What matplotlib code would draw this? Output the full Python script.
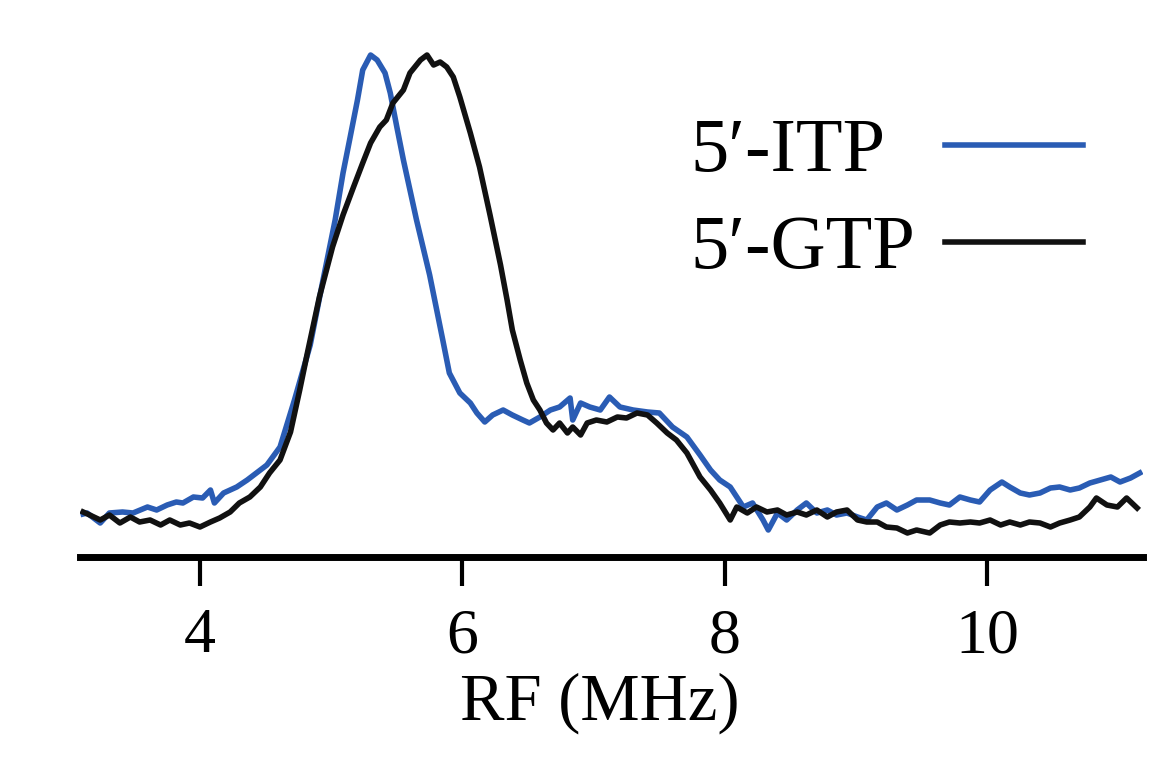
import matplotlib
matplotlib.use("Agg")
import matplotlib.pyplot as plt

# RF (MHz) and intensity (a.u.)
itp_rf = [3.11, 3.14, 3.24, 3.31, 3.41, 3.49, 3.60, 3.67, 3.75, 3.82, 3.87, 3.95, 4.02,
          4.08, 4.11, 4.18, 4.28, 4.36, 4.43, 4.51, 4.61, 4.72, 4.84, 4.93, 5.03, 5.09,
          5.14, 5.20, 5.24, 5.30, 5.35, 5.41, 5.45, 5.50, 5.55, 5.60, 5.65, 5.75, 5.85,
          5.90, 5.98, 6.06, 6.11, 6.17, 6.23, 6.31, 6.38, 6.46, 6.51, 6.59, 6.67, 6.74,
          6.82, 6.84, 6.90, 6.97, 7.05, 7.12, 7.20, 7.30, 7.41, 7.50, 7.60, 7.71, 7.81,
          7.89, 7.96, 8.04, 8.09, 8.14, 8.21, 8.29, 8.33, 8.40, 8.47, 8.55, 8.62, 8.70,
          8.78, 8.85, 8.93, 9.01, 9.08, 9.16, 9.23, 9.31, 9.39, 9.46, 9.56, 9.64, 9.71,
          9.79, 9.87, 9.94, 10.02, 10.11, 10.17, 10.25, 10.32, 10.40, 10.48, 10.55, 10.63,
          10.70, 10.78, 10.86, 10.94, 11.01, 11.09, 11.16]
itp_int = [0.086, 0.088, 0.068, 0.088, 0.090, 0.088, 0.100, 0.094, 0.104, 0.110, 0.108,
           0.120, 0.118, 0.134, 0.108, 0.128, 0.140, 0.154, 0.168, 0.184, 0.220, 0.314,
           0.424, 0.544, 0.674, 0.768, 0.834, 0.914, 0.974, 1.004, 0.994, 0.968, 0.928,
           0.860, 0.794, 0.734, 0.674, 0.564, 0.434, 0.368, 0.328, 0.308, 0.288, 0.270,
           0.284, 0.294, 0.284, 0.274, 0.268, 0.280, 0.294, 0.300, 0.318, 0.274, 0.308,
           0.300, 0.294, 0.320, 0.300, 0.294, 0.290, 0.288, 0.260, 0.240, 0.204, 0.174,
           0.154, 0.140, 0.120, 0.100, 0.108, 0.074, 0.054, 0.088, 0.074, 0.094, 0.108,
           0.088, 0.094, 0.084, 0.088, 0.080, 0.074, 0.100, 0.108, 0.094, 0.104, 0.114,
           0.114, 0.108, 0.104, 0.120, 0.114, 0.110, 0.134, 0.150, 0.140, 0.128, 0.124,
           0.128, 0.138, 0.140, 0.134, 0.138, 0.148, 0.154, 0.160, 0.150, 0.158, 0.168]

gtp_rf = [3.11, 3.16, 3.24, 3.31, 3.39, 3.47, 3.54, 3.62, 3.70, 3.77, 3.85, 3.92, 4.00,
          4.08, 4.15, 4.23, 4.30, 4.38, 4.46, 4.53, 4.61, 4.69, 4.76, 4.82, 4.91, 5.01,
          5.09, 5.17, 5.24, 5.30, 5.37, 5.42, 5.47, 5.55, 5.60, 5.68, 5.73, 5.78, 5.83,
          5.88, 5.93, 5.98, 6.06, 6.13, 6.21, 6.29, 6.34, 6.38, 6.44, 6.49, 6.54, 6.59,
          6.64, 6.69, 6.74, 6.80, 6.84, 6.90, 6.95, 7.02, 7.10, 7.18, 7.25, 7.33, 7.41,
          7.48, 7.56, 7.63, 7.71, 7.81, 7.89, 7.96, 8.04, 8.09, 8.17, 8.24, 8.32, 8.40,
          8.47, 8.55, 8.62, 8.70, 8.78, 8.85, 8.93, 9.01, 9.08, 9.16, 9.23, 9.31, 9.39,
          9.46, 9.56, 9.64, 9.71, 9.79, 9.87, 9.94, 10.02, 10.10, 10.17, 10.25, 10.32,
          10.40, 10.48, 10.55, 10.63, 10.70, 10.78, 10.83, 10.91, 10.99, 11.06, 11.14]
gtp_int = [0.090, 0.084, 0.074, 0.084, 0.068, 0.080, 0.070, 0.074, 0.064, 0.074, 0.064,
           0.068, 0.060, 0.070, 0.078, 0.090, 0.108, 0.120, 0.140, 0.168, 0.194, 0.250,
           0.334, 0.410, 0.520, 0.620, 0.684, 0.740, 0.788, 0.828, 0.860, 0.874, 0.908,
           0.934, 0.968, 0.994, 1.004, 0.984, 0.990, 0.980, 0.960, 0.920, 0.848, 0.780,
           0.684, 0.584, 0.514, 0.454, 0.394, 0.348, 0.314, 0.294, 0.268, 0.254, 0.268,
           0.248, 0.260, 0.244, 0.268, 0.274, 0.270, 0.280, 0.278, 0.288, 0.284, 0.268,
           0.248, 0.234, 0.208, 0.160, 0.134, 0.108, 0.074, 0.100, 0.088, 0.100, 0.090,
           0.094, 0.084, 0.090, 0.084, 0.094, 0.080, 0.090, 0.094, 0.074, 0.070, 0.070,
           0.060, 0.058, 0.048, 0.054, 0.048, 0.064, 0.070, 0.068, 0.070, 0.068, 0.074,
           0.064, 0.070, 0.064, 0.070, 0.068, 0.060, 0.068, 0.074, 0.080, 0.100, 0.118,
           0.104, 0.100, 0.118, 0.098]

xticks = [4, 6, 8, 10]

plt.rcParams["font.family"] = ["Liberation Serif", "DejaVu Serif"]

fig = plt.figure(figsize=(11.7, 7.7), dpi=100)
ax = fig.add_axes([80 / 1170, 1 - 557 / 770, 1063 / 1170, 537 / 770])

ax.plot(itp_rf, itp_int, color="#2a5cb4", lw=4, label="5\u2032-ITP", solid_joinstyle="round")
ax.plot(gtp_rf, gtp_int, color="#111111", lw=4, label="5\u2032-GTP", solid_joinstyle="round")

ax.set_xlim(3.086, 11.185)
ax.set_ylim(0, 1.074)

for s in ["top", "right", "left"]:
    ax.spines[s].set_visible(False)
ax.spines["bottom"].set_linewidth(5)
ax.set_yticks([])
ax.set_xticks(xticks)
ax.tick_params(axis="x", direction="out", length=21, width=3, pad=16, labelsize=46)
ax.set_xlabel("RF (MHz)", fontsize=48, labelpad=4, x=0.489)

leg = ax.legend(loc="upper left", bbox_to_anchor=(690 / 1170, 1 - 118 / 770),
                bbox_transform=fig.transFigure, frameon=False, markerfirst=False,
                fontsize=55, handlelength=1.8, handletextpad=0.4, labelspacing=0.36,
                borderpad=0, borderaxespad=0)

# left-align the labels and keep the keys lined up in one column
fig.canvas.draw()
r = fig.canvas.get_renderer()
widths = [t.get_window_extent(r).width for t in leg.get_texts()]
col = leg._legend_handle_box.get_children()[0]
col.align = "left"
rows = col.get_children()
for row, w in zip(rows, widths):
    row.sep = row.sep + (max(widths) - w) * 72 / fig.dpi

fig.savefig("out.png", dpi=100)
